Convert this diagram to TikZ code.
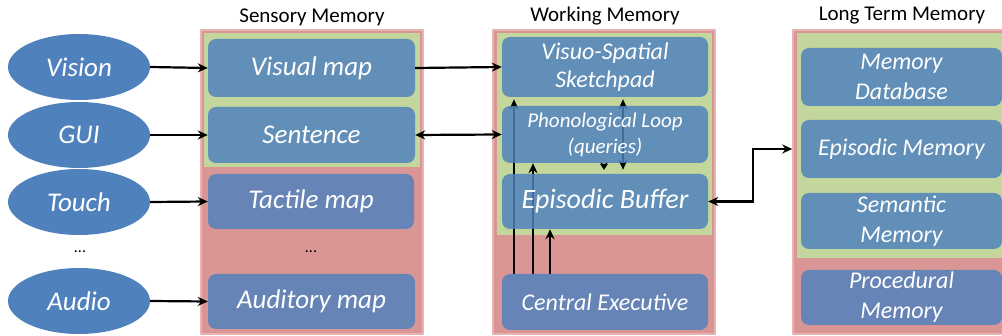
\documentclass[tikz,border=0pt]{standalone}
\usepackage{fontspec}
\setmainfont{Carlito}
\usetikzlibrary{shapes.geometric,arrows.meta,calc}
\definecolor{sblue}{HTML}{4F81BD}
\definecolor{spink}{HTML}{D99694}
\definecolor{spinkedge}{HTML}{E8B4B2}
\definecolor{sgreen}{HTML}{C3D69B}
\pgfdeclarelayer{bg}
\pgfdeclarelayer{mid}
\pgfsetlayers{bg,mid,main}
\tikzset{
  panel/.style={rectangle, fill=spink, draw=spinkedge, line width=1.5pt, inner sep=0pt},
  greenzone/.style={rectangle, fill=sgreen, inner sep=0pt},
  membox/.style={rectangle, rounded corners=8pt, fill=sblue, fill opacity=0.83, text opacity=1,
     text=white, align=center, inner sep=0pt},
  sense/.style={ellipse, fill=sblue, text=white, minimum width=142pt, minimum height=66pt, inner sep=0pt,
     font=\fontsize{27}{30}\selectfont\itshape},
  title/.style={font=\fontsize{21}{24}\selectfont, text=black},
  arr/.style={-{Stealth[length=10pt,width=9pt]}, line width=2.2pt, black},
  darr/.style={{Stealth[length=10pt,width=9pt]}-{Stealth[length=10pt,width=9pt]}, line width=2.2pt, black},
  sdarr/.style={{Stealth[length=6pt,width=8pt]}-{Stealth[length=6pt,width=8pt]}, line width=2.2pt, black},
  dots/.style={font=\fontsize{16}{18}\selectfont, text=black}
}
\begin{document}
\begin{tikzpicture}[x=1pt,y=-1pt]
\useasboundingbox (0,0) rectangle (1002,336);
\clip (0,0) rectangle (1002,336);
% panels
\begin{pgfonlayer}{bg}
\node[panel, minimum width=222pt, minimum height=304pt] (sm) at (312,182) {};
\node[greenzone, minimum width=216pt, minimum height=134pt] (smg) at (312,100) {};
\node[panel, minimum width=222pt, minimum height=304pt] (wm) at (604,182) {};
\node[greenzone, minimum width=215pt, minimum height=202pt] (wmg) at (604.5,134) {};
\node[panel, minimum width=222pt, minimum height=304pt] (ltm) at (904,182) {};
\node[greenzone, minimum width=216pt, minimum height=225pt] (ltmg) at (905,145.5) {};
\end{pgfonlayer}
% titles
\node[title] (t1) at (312,17) {Sensory Memory};
\node[title] (t2) at (605,16) {Working Memory};
\node[title] (t3) at (902,16) {Long Term Memory};
% senses
\node[sense] (vision) at (79,67) {Vision};
\node[sense] (gui) at (79,135) {GUI};
\node[sense] (touch) at (79,202) {Touch};
\node[sense] (audio) at (79,301) {Audio};
\node[dots] (d1) at (80,252) {...};
% sensory memory
\begin{scope}[every node/.append style={font=\fontsize{27}{30}\selectfont\itshape}]
\node[membox, minimum width=207pt, minimum height=58pt] (visual) at (311.5,68) {Visual map};
\node[membox, minimum width=207pt, minimum height=56pt] (sentence) at (311.5,135) {Sentence};
\node[membox, minimum width=206pt, minimum height=55pt] (tactile) at (311,201.5) {Tactile map};
\node[membox, minimum width=207pt, minimum height=55pt] (auditory) at (311.5,301.5) {Auditory map};
\end{scope}
\node[dots] (d2) at (311,252) {...};
% working memory
\node[membox, minimum width=206pt, minimum height=60pt, font=\fontsize{24}{28}\selectfont\itshape] (visuo) at (605,67) {Visuo-Spatial\\Sketchpad};
\node[membox, minimum width=206pt, minimum height=57pt, font=\fontsize{21}{26}\selectfont\itshape] (phono) at (605,134.5) {Phonological Loop\\(queries)};
\node[membox, minimum width=206pt, minimum height=55pt, font=\fontsize{28}{30}\selectfont\itshape] (episodic) at (605,201.5) {Episodic Buffer};
\node[membox, minimum width=206pt, minimum height=56pt, font=\fontsize{24}{28}\selectfont\itshape] (central) at (605,302) {Central Executive};
% long term memory
\begin{scope}[every node/.append style={font=\fontsize{24}{30}\selectfont\itshape}]
\node[membox, minimum width=201pt, minimum height=58pt] (memdb) at (901.5,77) {Memory\\Database};
\node[membox, minimum width=201pt, minimum height=58pt] (epimem) at (901.5,149) {Episodic Memory};
\node[membox, minimum width=201pt, minimum height=56pt] (semmem) at (901.5,221) {Semantic\\Memory};
\node[membox, minimum width=201pt, minimum height=55pt] (procmem) at (901.5,297.5) {Procedural\\Memory};
\end{scope}
% connectors
\coordinate (c1) at (514,0);
\coordinate (c2) at (533,0);
\coordinate (c3) at (550,0);
\coordinate (c4) at (604,0);
\coordinate (c5) at (623,0);
\coordinate (bend) at (753,0);
\draw[arr] (vision.east) -- (visual.west);
\draw[arr] (gui.east) -- (sentence.west);
\draw[arr] (touch.east) -- (tactile.west);
\draw[arr] (audio.east) -- (auditory.west);
\draw[arr] (visual.east) -- (visuo.west);
\draw[darr] (sentence.east) -- (phono.west);
\draw[darr] (episodic.east) -- (bend |- episodic.east) |- (epimem -| ltm.west);
\begin{pgfonlayer}{mid}
\draw[arr] (central.north -| c1) -- ([yshift=-2pt]visuo.south -| c1);
\draw[arr] (central.north -| c2) -- (phono.south -| c2);
\draw[arr] (central.north -| c3) -- (episodic.south -| c3);
\draw[sdarr] ([yshift=-5pt]phono.south -| c4) -- ([yshift=4pt]episodic.north -| c4);
\draw[darr] ([yshift=4pt]episodic.north -| c5) -- ([yshift=-2pt]visuo.south -| c5);
\end{pgfonlayer}
\end{tikzpicture}
\end{document}
